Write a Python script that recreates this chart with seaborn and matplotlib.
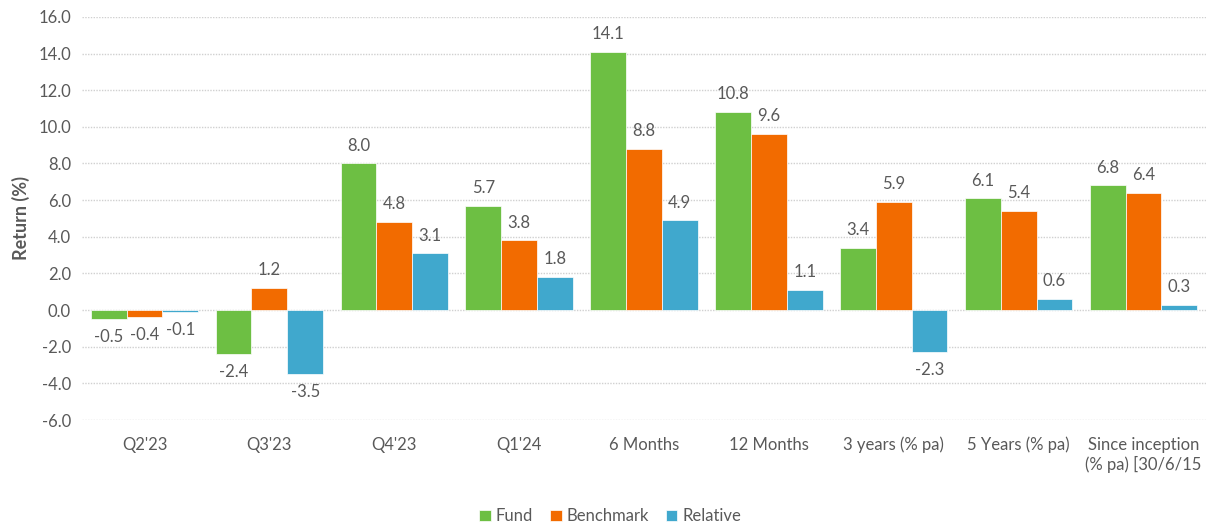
import pandas as pd
import seaborn as sns
import matplotlib.pyplot as plt

### Performance data
periods = ["Q2'23", "Q3'23", "Q4'23", "Q1'24", "6 Months", "12 Months",
           "3 years (% pa)", "5 Years (% pa)", "Since inception\n(% pa) [30/6/15"]
fund = [-0.5, -2.4, 8.0, 5.7, 14.1, 10.8, 3.4, 6.1, 6.8]
benchmark = [-0.4, 1.2, 4.8, 3.8, 8.8, 9.6, 5.9, 5.4, 6.4]
relative = [-0.1, -3.5, 3.1, 1.8, 4.9, 1.1, -2.3, 0.6, 0.3]
series = ["Fund", "Benchmark", "Relative"]
colors = ["#6DBF43", "#F26B00", "#40A8CD"]

df = pd.DataFrame({
    "Period": periods * 3,
    "Series": [s for s in series for _ in periods],
    "Return": fund + benchmark + relative,
})

sns.set_theme(style="white")
plt.rcParams['font.family'] = ['Lato', 'DejaVu Sans']
text_color = "#595959"

fig = plt.figure(figsize=(12.06, 5.27), dpi=100)
ax = fig.add_axes([0.068, 0.203, 0.932, 0.765])

sns.barplot(data=df, x="Period", y="Return", hue="Series", order=periods,
            hue_order=series, palette=colors, saturation=1, width=0.86, gap=0,
            edgecolor="white", linewidth=0.5, ax=ax, legend=True)

# value labels at the outer end of each bar
for cont in ax.containers:
    ax.bar_label(cont, fmt="%.1f", padding=7, fontsize=12, color=text_color)

ax.set_ylim(-6, 16)
ax.set_yticks(range(-6, 17, 2))
ax.set_yticklabels([f"{v:.1f}" for v in range(-6, 17, 2)])
ax.set_xlim(-0.5, len(periods) - 0.5)
ax.yaxis.grid(True, linestyle=(0, (1, 1)), color="#d0d0d0", linewidth=1)
ax.set_axisbelow(True)
for sp in ax.spines.values():
    sp.set_visible(False)

ax.tick_params(axis="both", length=0, labelsize=12, colors=text_color, pad=8)
ax.tick_params(axis="x", pad=12)
ax.set_xlabel("")
ax.set_ylabel("Return (%)", fontsize=13, color=text_color, fontweight="bold", labelpad=6)

handles, labels = ax.get_legend_handles_labels()
ax.get_legend().remove()
fig.legend(handles, labels, loc="center", bbox_to_anchor=(0.506, 0.02), ncol=3,
           frameon=False, fontsize=12, handlelength=0.7, handleheight=0.7,
           handletextpad=0.3, columnspacing=1.0, labelcolor=text_color)

fig.savefig("out.png", dpi=100)
